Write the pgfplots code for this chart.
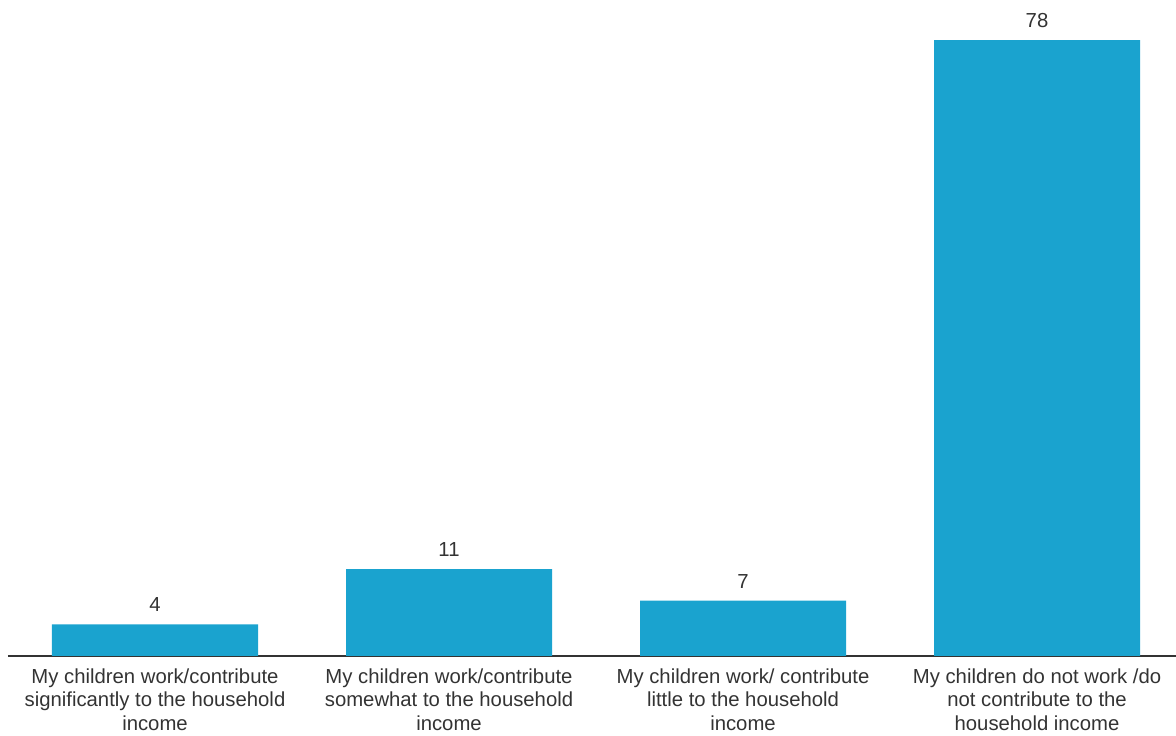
\documentclass[border=0pt]{standalone}
\usepackage{pgfplots}
\pgfplotsset{compat=1.18}
\usepackage{fontspec}
\setmainfont{Liberation Sans}
\definecolor{barblue}{HTML}{1AA3CF}
\definecolor{txt}{HTML}{333333}
\begin{document}
\begin{tikzpicture}
\useasboundingbox (-8pt,-80pt) rectangle (1168pt,656pt);
\begin{axis}[
  scale only axis,
  width=1168pt, height=656pt,
  xmin=-0.5, xmax=3.4728,
  ymin=0, ymax=83.07,
  axis x line*=bottom,
  axis y line=none,
  x axis line style={-, draw=txt, line width=1.5pt},
  xtick={0,1,2,3},
  xticklabels={
    {My children work/contribute\\significantly to the household\\income},
    {My children work/contribute\\somewhat to the household\\income},
    {My children work/ contribute\\little to the household\\income},
    {My children do not work /do\\not contribute to the\\household income}},
  xticklabel style={align=center, font=\fontsize{20.3}{23.5}\selectfont, text=txt, yshift=-9pt},
  major tick length=0pt,
  ytick=\empty,
  ybar, bar width=0.7007,
  nodes near coords,
  every node near coord/.append style={font=\fontsize{20.3}{24}\selectfont, text=txt, yshift=9pt},
  /pgf/number format/assume math mode=true,
  clip=false,
]
\addplot[fill=barblue, draw=none] coordinates {(0,4) (1,11) (2,7) (3,78)};
\end{axis}
\end{tikzpicture}
\end{document}
